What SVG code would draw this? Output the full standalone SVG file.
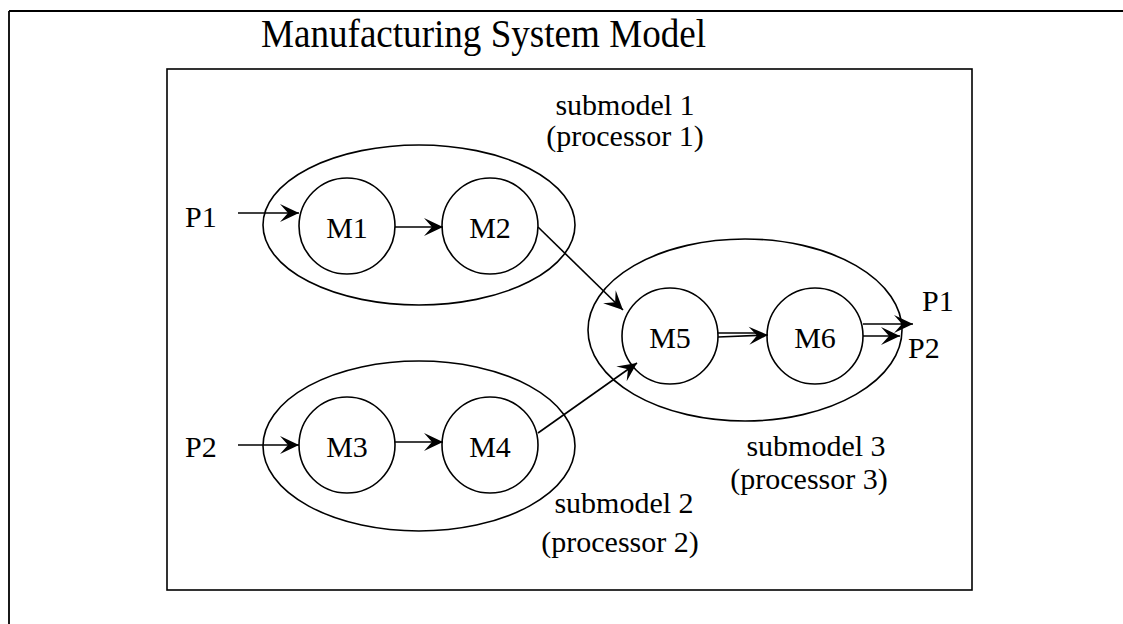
<svg xmlns="http://www.w3.org/2000/svg" width="1123" height="624" viewBox="0 0 1123 624">
<defs>
<marker id="ah" markerUnits="userSpaceOnUse" markerWidth="26" markerHeight="22" viewBox="-22 -11 26 22" refX="0" refY="0" orient="auto">
<path d="M0,0 L-19,-9 L-11,0 L-19,9 Z" fill="#000"/>
</marker>
</defs>
<style>
.t{font-family:"Liberation Serif","Times New Roman",serif;fill:#000}
.lbl{font-size:30px}
.ml{font-size:30px;text-anchor:middle}
.shape{fill:none;stroke:#000;stroke-width:1.6}
.c{fill:none;stroke:#000;stroke-width:1.6}
</style>
<rect width="1123" height="624" fill="#fff"/>
<g id="frame">
<line x1="9" y1="11" x2="1123" y2="11" stroke="#000" stroke-width="2.2"/>
<line x1="9" y1="11" x2="9" y2="624" stroke="#000" stroke-width="1.8"/>
<text class="t" x="261" y="47" font-size="40" textLength="445" lengthAdjust="spacingAndGlyphs">Manufacturing System Model</text>
<rect x="167" y="69" width="805" height="521" fill="none" stroke="#000" stroke-width="1.6"/>
</g>
<g id="submodel1">
<ellipse class="shape" cx="419" cy="225" rx="156" ry="80"/>
<text class="t ml" x="625" y="115">submodel 1</text>
<text class="t ml" x="625" y="146">(processor 1)</text>
</g>
<g id="submodel2">
<ellipse class="shape" cx="419" cy="446" rx="156" ry="85"/>
<text class="t ml" x="624" y="513">submodel 2</text>
<text class="t ml" x="620" y="552">(processor 2)</text>
</g>
<g id="submodel3">
<ellipse class="shape" cx="745" cy="330" rx="157" ry="91"/>
<text class="t ml" x="816" y="456">submodel 3</text>
<text class="t ml" x="809" y="489">(processor 3)</text>
</g>
<g id="M1"><circle class="shape" cx="347" cy="226" r="48"/><text class="t ml" x="347" y="238">M1</text></g>
<g id="M2"><circle class="shape" cx="490" cy="226" r="48"/><text class="t ml" x="490" y="238">M2</text></g>
<g id="M3"><circle class="shape" cx="347" cy="445" r="48"/><text class="t ml" x="347" y="457">M3</text></g>
<g id="M4"><circle class="shape" cx="490" cy="445" r="48"/><text class="t ml" x="490" y="457">M4</text></g>
<g id="M5"><circle class="shape" cx="670" cy="336" r="48"/><text class="t ml" x="670" y="348">M5</text></g>
<g id="M6"><circle class="shape" cx="815" cy="336" r="48"/><text class="t ml" x="815" y="348">M6</text></g>
<g id="labels">
<text class="t lbl" x="185" y="227">P1</text>
<text class="t lbl" x="185" y="457">P2</text>
<text class="t lbl" x="922" y="311">P1</text>
<text class="t lbl" x="908" y="358">P2</text>
</g>
<g id="connectors">
<line class="c" x1="238" y1="213" x2="299" y2="213" marker-end="url(#ah)"/>
<line class="c" x1="395" y1="227" x2="443" y2="227" marker-end="url(#ah)"/>
<line class="c" x1="238" y1="445" x2="299" y2="445" marker-end="url(#ah)"/>
<line class="c" x1="395" y1="442" x2="443" y2="442" marker-end="url(#ah)"/>
<line class="c" x1="538" y1="227" x2="623" y2="310" marker-end="url(#ah)"/>
<line class="c" x1="538" y1="433" x2="637" y2="363" marker-end="url(#ah)"/>
<line class="c" x1="718" y1="333" x2="760" y2="333"/>
<line class="c" x1="718" y1="337" x2="768" y2="335" marker-end="url(#ah)"/>
<line class="c" x1="863" y1="324" x2="913" y2="324" marker-end="url(#ah)"/>
<line class="c" x1="863" y1="336" x2="900" y2="336" marker-end="url(#ah)"/>
</g>
</svg>
